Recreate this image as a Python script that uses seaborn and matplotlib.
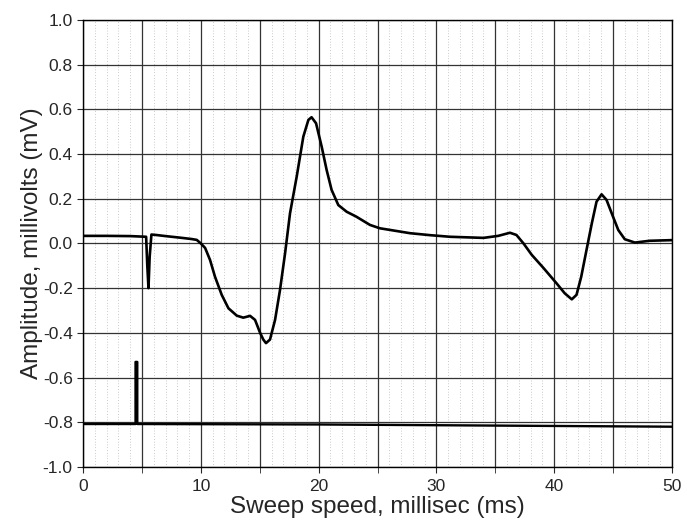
import matplotlib
matplotlib.use("Agg")
import matplotlib.pyplot as plt
import numpy as np
import pandas as pd
import seaborn as sns

# main trace (ms, mV)
trace_ms = [0, 2, 4, 5.35, 5.45, 5.55, 5.65, 5.8, 6.2, 7.0, 8.23, 9.2, 9.65, 10.0, 10.36,
            10.78, 11.2, 11.77, 12.34, 13.05, 13.6, 14.18, 14.6, 15.03, 15.3, 15.53,
            15.87, 16.3, 16.72, 17.15, 17.57, 18.14, 18.7, 19.13, 19.4, 19.78, 20.26,
            20.68, 21.1, 21.67, 22.38, 23.2, 24.36, 25.2, 26.6, 27.76, 29.5, 31.15, 34.0,
            35.25, 36.25, 36.8, 37.4, 38.1, 39.1, 40.2, 40.9, 41.5, 41.9, 42.3, 42.75,
            43.2, 43.6, 44.03, 44.45, 45.0, 45.45, 46.0, 46.86, 48.1, 50]
trace_mv = [0.034, 0.034, 0.033, 0.03, -0.1, -0.2, -0.06, 0.04, 0.038, 0.033, 0.026,
            0.02, 0.016, 0.0, -0.02, -0.074, -0.149, -0.23, -0.29, -0.323, -0.332,
            -0.324, -0.342, -0.4, -0.43, -0.446, -0.43, -0.342, -0.208, -0.044, 0.135,
            0.30, 0.478, 0.553, 0.565, 0.538, 0.433, 0.329, 0.24, 0.172, 0.142, 0.12,
            0.083, 0.068, 0.056, 0.046, 0.037, 0.03, 0.025, 0.034, 0.048, 0.038, 0.0,
            -0.051, -0.11, -0.178, -0.223, -0.25, -0.23, -0.149, -0.029, 0.09, 0.187,
            0.22, 0.195, 0.12, 0.06, 0.019, 0.004, 0.012, 0.015]

# calibration trace on the lower baseline
cal_ms = [0, 4.45, 4.45, 4.6, 4.6, 20, 35, 50]
cal_mv = [-0.808, -0.808, -0.53, -0.53, -0.808, -0.81, -0.815, -0.82]

x_ticks = [0, 10, 20, 30, 40, 50]
y_ticks = [-1.0, -0.8, -0.6, -0.4, -0.2, 0.0, 0.2, 0.4, 0.6, 0.8, 1.0]

sns.set_style("ticks")
plt.rcParams['font.family'] = ['Liberation Sans', 'DejaVu Sans']

fig = plt.figure(figsize=(6.87, 5.27), dpi=100)
ax = fig.add_axes([0.121, 0.114, 0.857, 0.848])

df_main = pd.DataFrame({"ms": trace_ms, "mv": trace_mv})
df_cal = pd.DataFrame({"ms": cal_ms, "mv": cal_mv})

# faint dotted paper texture
for xm in np.arange(1, 50, 1):
    ax.axvline(xm, color="#999999", lw=0.5, ls=(0, (1, 3)), zorder=0)

sns.lineplot(data=df_main, x="ms", y="mv", ax=ax, color="black", lw=1.9,
             sort=False, estimator=None)
sns.lineplot(data=df_cal, x="ms", y="mv", ax=ax, color="black", lw=1.7,
             sort=False, estimator=None)
for ln in ax.get_lines():
    ln.set_solid_joinstyle("round")

ax.set_xlim(0, 50)
ax.set_ylim(-1.0, 1.0)
ax.set_xticks(x_ticks)
ax.set_xticks(np.arange(5, 50, 10), minor=True)
ax.set_yticks(y_ticks)
ax.set_yticklabels([f"{v:.1f}" for v in y_ticks])
ax.grid(True, which="both", color="#333333", lw=0.9)
ax.tick_params(axis="both", which="both", direction="out", length=4, labelsize=12.5)
ax.tick_params(axis="x", pad=5)

for s in ax.spines.values():
    s.set_color("black")
    s.set_linewidth(1.0)

ax.set_xlabel("Sweep speed, millisec (ms)", fontsize=17.5, labelpad=1)
ax.set_ylabel("Amplitude, millivolts (mV)", fontsize=17.5, labelpad=0)

fig.savefig("out.png", dpi=100)
